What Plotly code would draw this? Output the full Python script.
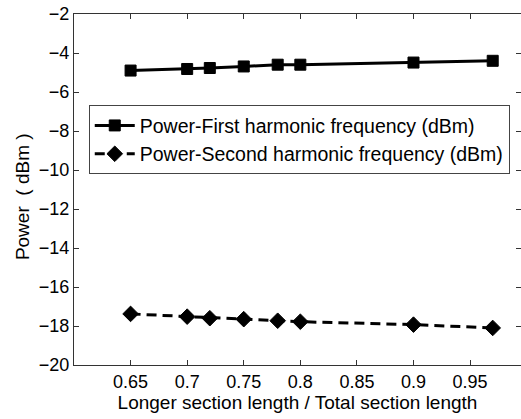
import plotly.graph_objects as go

x_vals = [0.65, 0.70, 0.72, 0.75, 0.78, 0.80, 0.90, 0.97]
first_harmonic = [-4.90, -4.82, -4.77, -4.69, -4.60, -4.60, -4.49, -4.40]
second_harmonic = [-17.38, -17.52, -17.60, -17.65, -17.73, -17.78, -17.93, -18.10]

name_first = "Power-First harmonic frequency (dBm)"
name_second = "Power-Second harmonic frequency (dBm)"

fig = go.Figure()
fig.add_trace(go.Scatter(
    x=x_vals, y=first_harmonic, name=name_first, mode="lines+markers",
    line=dict(color="black", width=3),
    marker=dict(symbol="square", size=11, color="black", line=dict(color="black", width=1)),
))
fig.add_trace(go.Scatter(
    x=x_vals, y=second_harmonic, name=name_second, mode="lines+markers",
    line=dict(color="black", width=3, dash="10px,6px"),
    marker=dict(symbol="diamond", size=12, color="black", line=dict(color="black", width=1)),
))

family = "Liberation Sans, Arial, sans-serif"
tick_font = dict(family=family, size=18, color="black")
title_font = dict(family=family, size=19, color="black")
legend_font = dict(family=family, size=19.5, color="black")

fig.update_layout(
    width=521, height=419,
    margin=dict(l=74, r=0, t=14, b=54),
    paper_bgcolor="white", plot_bgcolor="white",
    font=tick_font,
    showlegend=True,
    legend=dict(
        x=0.033, y=0.74, xanchor="left", yanchor="top",
        bgcolor="white", bordercolor="#444", borderwidth=1,
        font=legend_font, itemwidth=40, tracegroupgap=0,
    ),
    xaxis=dict(
        range=[0.6, 0.995], tickvals=[0.65, 0.7, 0.75, 0.8, 0.85, 0.9, 0.95],
        ticktext=["0.65", "0.7", "0.75", "0.8", "0.85", "0.9", "0.95"],
        ticks="inside", ticklen=5, tickcolor="#333", tickfont=tick_font,
        showline=True, linecolor="#333", linewidth=1, mirror="ticks",
        showgrid=False, zeroline=False,
        title=dict(text="Longer section length / Total section length", standoff=2, font=title_font),
    ),
    yaxis=dict(
        range=[-20, -2], dtick=2,
        ticks="inside", ticklen=5, tickcolor="#333", tickfont=tick_font,
        showline=True, linecolor="#333", linewidth=1, mirror="ticks",
        showgrid=False, zeroline=False,
    ),
    annotations=[dict(
        text="Power  ( dBm )", textangle=-90, font=title_font,
        xref="paper", yref="paper", x=-0.115, y=0.48,
        xanchor="center", yanchor="middle", showarrow=False,
    )],
)

fig.write_html("out.html")
